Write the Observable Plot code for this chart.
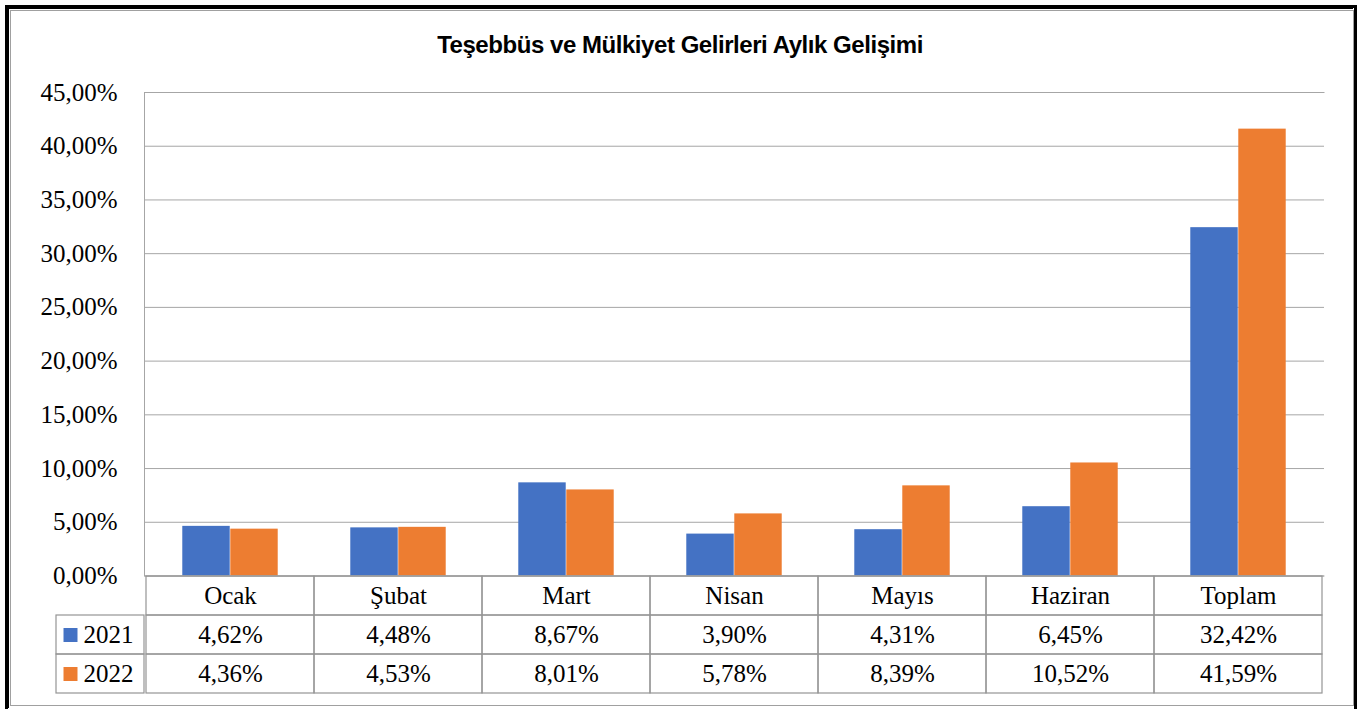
<!DOCTYPE html>
<html>
<head>
<meta charset="utf-8">
<script src="https://cdn.jsdelivr.net/npm/d3@7"></script>
<script src="https://cdn.jsdelivr.net/npm/@observablehq/plot@0.6"></script>
<style>
  html, body { margin: 0; padding: 0; background: #fff; }
  body { width: 1360px; height: 709px; position: relative; overflow: hidden; }
  #outer { position: absolute; left: 5px; top: 5px; width: 1352px; height: 706px; border: 3px solid #000; box-sizing: border-box; border-bottom: none; }
  #inner1 { position: absolute; left: 8px; top: 8px; width: 1345px; height: 700px; border: 1px solid #000; box-sizing: border-box; border-right: none; border-bottom: none; }
  #inner2 { position: absolute; left: 10px; top: 10px; width: 1344px; height: 696px; border: 1px solid #a0a0a0; box-sizing: border-box; }
  #title { position: absolute; left: 0; top: 31px; width: 1360px; text-align: center; box-sizing: border-box;
           font-family: "Liberation Sans", Arial, sans-serif; font-weight: bold; font-size: 24px; letter-spacing: -0.45px; color: #000; white-space: nowrap; }
  #chart { position: absolute; left: 0; top: 80px; }
  #table { position: absolute; left: 0; top: 574px; }
  svg { overflow: visible; }
</style>
</head>
<body>
<div id="outer"></div>
<div id="inner1"></div>
<div id="inner2"></div>
<div id="title">Teşebbüs ve Mülkiyet Gelirleri Aylık Gelişimi</div>
<div id="chart"></div>
<div id="table"></div>
<script>
const months = ["Ocak", "Şubat", "Mart", "Nisan", "Mayıs", "Haziran", "Toplam"];
const years = ["2021", "2022"];
const values2021 = [4.62, 4.48, 8.67, 3.90, 4.31, 6.45, 32.42];
const values2022 = [4.36, 4.53, 8.01, 5.78, 8.39, 10.52, 41.59];
const yTicks = [0, 5, 10, 15, 20, 25, 30, 35, 40, 45];
const colors = ["#4472C4", "#ED7D31"];

const fmt = v => v.toFixed(2).replace(".", ",") + "%";
const serif = "'Liberation Serif', 'Times New Roman', serif";
const gridColor = "#a6a6a6";
const tableColor = "#959595";

const W = 1360, ML = 144, MR = 36;
const plotW = W - ML - MR;
const bw = plotW / months.length;
const barW = 48;
const outerPad = (bw - 2 * barW) / 2;

const series = years.map((yr, k) => ({
  year: yr,
  color: colors[k],
  rows: months.map((m, i) => ({month: m, value: (k === 0 ? values2021 : values2022)[i]}))
}));

const plotH = 483.5;
const chart = Plot.plot({
  width: W,
  height: 12 + plotH + 14,
  marginLeft: ML,
  marginRight: MR,
  marginTop: 12,
  marginBottom: 14,
  x: {domain: months, padding: 0, axis: null},
  y: {domain: [0, 45], axis: null},
  marks: [
    Plot.ruleY(yTicks, {stroke: gridColor, strokeWidth: 1}),
    ...series.map((s, k) => Plot.barY(s.rows, {
      x: "month", y: "value", fill: s.color,
      insetLeft: k === 0 ? outerPad : outerPad + barW,
      insetRight: k === 0 ? outerPad + barW : outerPad
    })),
    Plot.frame({stroke: gridColor, strokeDasharray: `${plotW} ${plotH} ${plotW + plotH}`}),
    Plot.axisY(yTicks, {
      tickSize: 0, tickPadding: 27, tickFormat: fmt, label: null,
      fontSize: 25, fontFamily: serif, fill: "#000"
    })
  ]
});
chart.style.fontFamily = serif;
document.getElementById("chart").appendChild(chart);

const rowKeys = ["cat", ...years];
const cells = [];
months.forEach((m, i) => {
  cells.push({month: m, row: "cat", label: m});
  cells.push({month: m, row: "2021", label: fmt(values2021[i])});
  cells.push({month: m, row: "2022", label: fmt(values2022[i])});
});
const legendRows = years.map((y, k) => ({row: y, color: colors[k]}));

const table = Plot.plot({
  width: W,
  height: 1 + 118 + 2,
  marginLeft: ML,
  marginRight: MR,
  marginTop: 1,
  marginBottom: 2,
  x: {domain: months, padding: 0, axis: null},
  y: {domain: rowKeys, padding: 0, axis: null},
  marks: [
    Plot.cell(cells, {x: "month", y: "row", fill: "none", stroke: tableColor, strokeWidth: 1.2}),
    Plot.cell(legendRows, {y: "row", insetLeft: -88, insetRight: plotW, fill: "none", stroke: tableColor, strokeWidth: 1.2}),
    Plot.text(cells, {x: "month", y: "row", text: "label", fontSize: 25, fontFamily: serif, fill: "#000"}),
    Plot.dot(legendRows, {y: "row", frameAnchor: "left", dx: -74, symbol: "square", r: 7.9, fill: "color", stroke: null}),
    Plot.text(legendRows, {y: "row", frameAnchor: "left", dx: -61, textAnchor: "start", text: "row", fontSize: 25, fontFamily: serif, fill: "#000"})
  ]
});
table.style.fontFamily = serif;
document.getElementById("table").appendChild(table);
</script>
</body>
</html>
